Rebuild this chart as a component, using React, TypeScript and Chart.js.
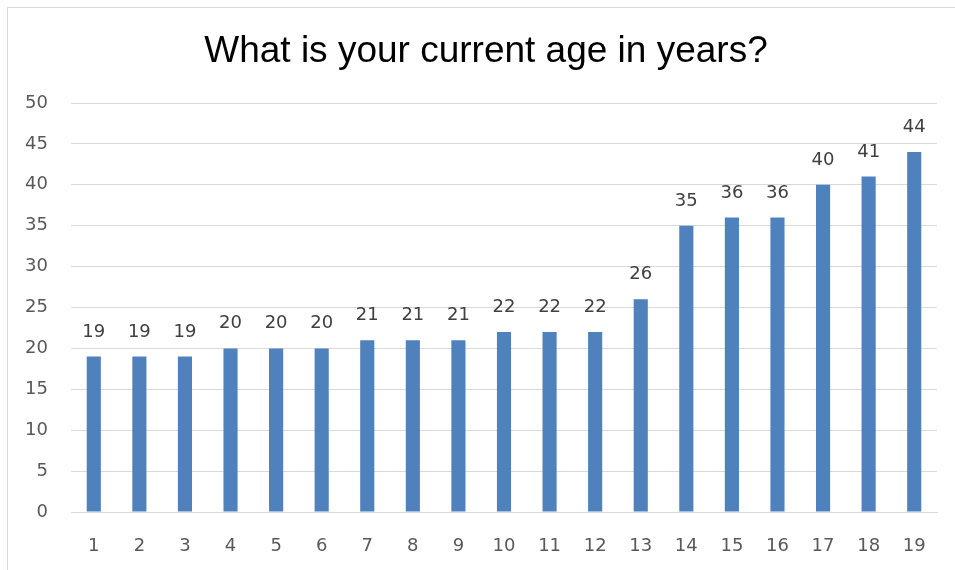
import React, { useEffect, useRef } from "react";
import { Chart, registerables } from "chart.js";

Chart.register(...registerables);

const titleText = "What is your current age in years?";
const categories = ["1","2","3","4","5","6","7","8","9","10","11","12","13","14","15","16","17","18","19"];
const ages = [19,19,19,20,20,20,21,21,21,22,22,22,26,35,36,36,40,41,44];
const yMin = 0;
const yMax = 50;
const yStep = 5;

const barColor = "#4F81BD";
const gridColor = "#D9D9D9";
const tickColor = "#595959";
const labelColor = "#404040";
const tickFont = "'DejaVu Sans', sans-serif";

const decorPlugin = {
  id: "decor",
  beforeDraw(chart: any) {
    const ctx = chart.ctx;
    ctx.save();
    ctx.fillStyle = "#FFFFFF";
    ctx.fillRect(0, 0, chart.width, chart.height);
    ctx.strokeStyle = gridColor;
    ctx.lineWidth = 1;
    ctx.strokeRect(7.5, 7.5, chart.width + 20, chart.height + 20);
    ctx.fillStyle = "#000000";
    ctx.font = "37px 'Liberation Sans', Arial, sans-serif";
    ctx.textAlign = "center";
    ctx.textBaseline = "alphabetic";
    ctx.fillText(titleText, 486, 62);
    ctx.restore();
  },
  afterDatasetsDraw(chart: any) {
    const ctx = chart.ctx;
    const meta = chart.getDatasetMeta(0);
    ctx.save();
    ctx.fillStyle = labelColor;
    ctx.font = "18px " + tickFont;
    ctx.textAlign = "center";
    ctx.textBaseline = "alphabetic";
    meta.data.forEach((bar: any, i: number) => {
      ctx.fillText(String(chart.data.datasets[0].data[i]), bar.x, bar.y - 20);
    });
    ctx.restore();
  },
};

export default function App() {
  const ref = useRef<HTMLCanvasElement>(null);
  useEffect(() => {
    if (!ref.current) return;
    const chart = new Chart(ref.current, {
      type: "bar",
      data: {
        labels: categories,
        datasets: [
          {
            data: ages,
            backgroundColor: barColor,
            borderWidth: 0,
            categoryPercentage: 1,
            barPercentage: 0.31,
          },
        ],
      },
      options: {
        animation: false,
        responsive: false,
        layout: { padding: { left: 0, right: 18, top: 103, bottom: 0 } },
        plugins: { legend: { display: false }, title: { display: false }, tooltip: { enabled: false } },
        scales: {
          x: {
            grid: { display: false, drawTicks: false },
            border: { display: true, color: gridColor, width: 1 },
            ticks: { color: tickColor, font: { family: tickFont, size: 18 }, padding: 24, maxRotation: 0 },
            afterFit(scale: any) { scale.height = 58; },
          },
          y: {
            min: yMin,
            max: yMax,
            grid: { color: gridColor, drawTicks: false, lineWidth: 1 },
            border: { display: false },
            ticks: { stepSize: yStep, color: tickColor, font: { family: tickFont, size: 18 }, padding: 23 },
            afterFit(scale: any) { scale.width = 71; },
          },
        },
      },
      plugins: [decorPlugin],
    });
    return () => chart.destroy();
  }, []);
  return (
    <div style={{ position: "absolute", left: 0, top: 0, width: 955, height: 570, overflow: "hidden" }}>
      <canvas ref={ref} width={955} height={570} style={{ display: "block" }} />
    </div>
  );
}
